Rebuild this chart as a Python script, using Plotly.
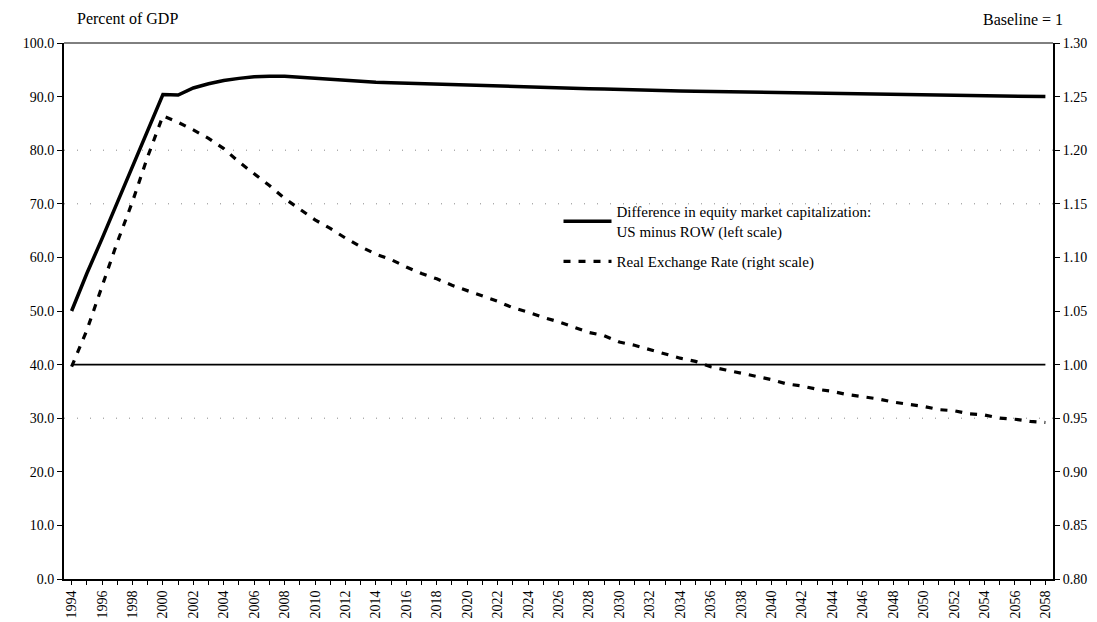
import plotly.graph_objects as go

# years on the horizontal axis
years = list(range(1994, 2059))

# difference in equity market capitalization, US minus ROW (percent of GDP, left scale)
equity_gap = [
    50.0, 57.0, 63.5, 70.2, 77.0, 83.7, 90.4, 90.3, 91.6, 92.4,
    93.0, 93.4, 93.7, 93.8, 93.8, 93.6, 93.4, 93.2, 93.0, 92.9,
    92.7, 92.6, 92.5, 92.4, 92.3, 92.2, 92.1, 92.0, 91.9, 91.85,
    91.8, 91.7, 91.6, 91.5, 91.45, 91.4, 91.3, 91.25, 91.2, 91.1,
    91.05, 91.0, 90.95, 90.9, 90.85, 90.8, 90.75, 90.7, 90.65, 90.6,
    90.6, 90.55, 90.5, 90.45, 90.4, 90.35, 90.3, 90.3, 90.25, 90.2,
    90.15, 90.1, 90.1, 90.05, 90.0,
]

# real exchange rate (baseline = 1, right scale)
real_fx = [
    0.998, 1.032, 1.073, 1.114, 1.152, 1.194, 1.232, 1.226, 1.219, 1.211,
    1.2015, 1.189, 1.178, 1.167, 1.155, 1.145, 1.135, 1.127, 1.118, 1.110,
    1.103, 1.098, 1.091, 1.085, 1.080, 1.074, 1.069, 1.064, 1.059, 1.053,
    1.049, 1.044, 1.040, 1.035, 1.030, 1.027, 1.021, 1.018, 1.014, 1.010,
    1.006, 1.003, 0.998, 0.995, 0.992, 0.989, 0.986, 0.982, 0.980, 0.977,
    0.975, 0.972, 0.970, 0.968, 0.965, 0.963, 0.961, 0.958, 0.957, 0.954,
    0.953, 0.950, 0.949, 0.947, 0.946,
]

# baseline reference line (right scale)
baseline = [1.0] * len(years)

# faint dotted gridlines that survive in the picture (left scale)
grid_levels = [30, 70, 80]

left_ticks = [0, 10, 20, 30, 40, 50, 60, 70, 80, 90, 100]
right_ticks = [0.80, 0.85, 0.90, 0.95, 1.00, 1.05, 1.10, 1.15, 1.20, 1.25, 1.30]

serif = "Liberation Serif, Times New Roman, serif"

fig = go.Figure()

fig.add_trace(go.Scatter(
    x=years, y=baseline, yaxis="y2", mode="lines",
    line=dict(color="black", width=1.8), showlegend=False, hoverinfo="skip",
))

fig.add_trace(go.Scatter(
    x=years, y=equity_gap, mode="lines", legendgroup="a",
    name="Difference in equity market capitalization:<br>US minus ROW (left scale)",
    line=dict(color="black", width=3.5),
))

fig.add_trace(go.Scatter(
    x=years, y=real_fx, yaxis="y2", mode="lines", legendgroup="b",
    name="Real Exchange Rate (right scale)",
    line=dict(color="black", width=3.2, dash="7px,8px"),
))

for g in grid_levels:
    fig.add_shape(type="line", xref="paper", x0=0, x1=1, yref="y", y0=g, y1=g,
                  line=dict(color="#888888", width=1, dash="1px,12px"), layer="below")

fig.update_layout(
    template="none",
    width=1097, height=622,
    margin=dict(l=56, r=52, t=35, b=51),
    paper_bgcolor="white", plot_bgcolor="white",
    font=dict(family=serif, size=14, color="black"),
    showlegend=True,
    legend=dict(
        x=0.5, y=0.716, xanchor="left", yanchor="top",
        bgcolor="rgba(0,0,0,0)", font=dict(size=15, family=serif),
        tracegroupgap=8, itemwidth=48,
    ),
    xaxis=dict(
        range=[1993.5, 2058.5],
        tickmode="linear", tick0=1994, dtick=2,
        tickangle=-90, ticks="outside", ticklen=4, tickcolor="black",
        minor=dict(dtick=1, ticks="outside", ticklen=4, tickcolor="black"),
        showgrid=False, zeroline=False,
        showline=True, linecolor="black", linewidth=2,
        automargin=False, tickfont=dict(size=14),
    ),
    yaxis=dict(
        range=[0, 100], tickvals=left_ticks, tickformat=".1f",
        ticks="outside", ticklen=5, tickcolor="black",
        showgrid=False, zeroline=False,
        showline=True, linecolor="black", linewidth=2, mirror=False,
        automargin=False, tickfont=dict(size=14),
    ),
    yaxis2=dict(
        range=[0.80, 1.30], tickvals=right_ticks, tickformat=".2f",
        overlaying="y", side="right",
        ticks="outside", ticklen=5, tickcolor="black",
        showgrid=False, zeroline=False,
        showline=True, linecolor="black", linewidth=2,
        automargin=False, tickfont=dict(size=14),
    ),
    annotations=[
        dict(text="Percent of GDP", xref="paper", yref="paper", x=0.011, y=1.045,
             xanchor="left", yanchor="middle", showarrow=False, font=dict(size=16)),
        dict(text="Baseline = 1", xref="paper", yref="paper", x=1.012, y=1.043,
             xanchor="right", yanchor="middle", showarrow=False, font=dict(size=16)),
    ],
)

# thin top border of the plot frame
fig.add_shape(type="line", xref="paper", yref="paper", x0=0, x1=1, y0=1, y1=1,
              line=dict(color="black", width=1))

fig.write_html("out.html")
